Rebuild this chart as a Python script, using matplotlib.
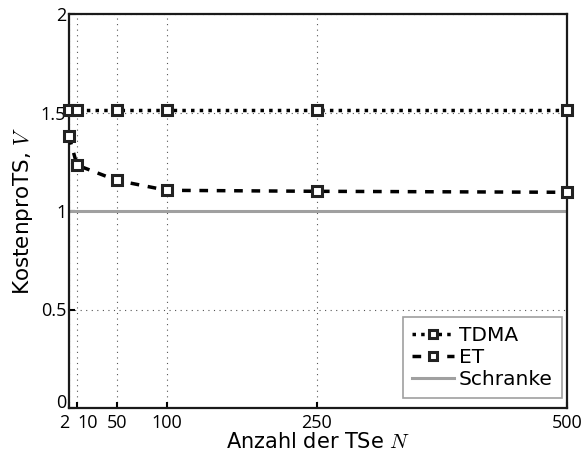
import matplotlib
matplotlib.use("Agg")
import matplotlib.pyplot as plt

x_vals = [2, 10, 50, 100, 250, 500]
tdma = [1.515, 1.515, 1.515, 1.515, 1.515, 1.515]
et = [1.38, 1.233, 1.155, 1.105, 1.10, 1.095]
bound = [1.0, 1.0, 1.0, 1.0, 1.0, 1.0]
xticks = [2, 10, 50, 100, 250, 500]
yticks = [0, 0.5, 1, 1.5, 2]
ytick_labels = ["0", "0.5", "1", "1.5", "2"]

plt.rcParams['font.family'] = ['DejaVu Sans']
plt.rcParams['mathtext.fontset'] = 'cm'

fig = plt.figure(figsize=(5.83, 4.54), dpi=100)
ax = fig.add_axes([69/583, 1 - 408/454, (567-69)/583, (408-14)/454])

ax.plot(x_vals, bound, color='#a0a0a0', lw=2.2, label='Schranke', zorder=2)
ax.plot(x_vals, tdma, color='black', ls=(0, (1, 1.5)), lw=2.5, marker='s', ms=7.5,
        mfc='white', mec='#222222', mew=2.2, label='TDMA', zorder=4, clip_on=False)
ax.plot(x_vals, et, color='black', ls=(0, (2.5, 2.5)), lw=2.5, marker='s', ms=7.5,
        mfc='white', mec='#222222', mew=2.2, label='ET', zorder=4, clip_on=False)

ax.set_xlim(2, 500)
ax.set_ylim(0, 2)
ax.set_xticks(xticks)
ax.set_xticklabels([str(v) for v in xticks], family='Open Sans', fontsize=13)
ax.set_yticks(yticks)
ax.set_yticklabels(ytick_labels, family='Open Sans', fontsize=13)
ax.tick_params(direction='in', length=4, width=1.5)
ax.tick_params(axis='x', pad=4)
ax.tick_params(axis='y', pad=2)
for lab in ax.get_xticklabels():
    if lab.get_text() == '2':
        lab.set_horizontalalignment('right')
    if lab.get_text() == '10':
        lab.set_horizontalalignment('left')
for lab in ax.get_yticklabels():
    if lab.get_text() == '0':
        lab.set_verticalalignment('baseline')
ax.grid(True, ls=(0, (1, 4)), color='#555555', lw=0.8)
for s in ax.spines.values():
    s.set_linewidth(1.6)
    s.set_color('#1a1a1a')

ax.set_xlabel('Anzahl der TSe $N$', fontsize=15, labelpad=0)
ax.set_ylabel('KostenproTS, $V$', fontsize=15.5, labelpad=4)

h, l = ax.get_legend_handles_labels()
order = [1, 2, 0]
leg = ax.legend([h[i] for i in order], [l[i] for i in order], loc='lower right',
                bbox_to_anchor=(0.990, 0.0254), borderaxespad=0,
                fontsize=14.5, frameon=True, fancybox=False, edgecolor='#888888',
                handlelength=2.1, handletextpad=0.25, borderpad=0.45, labelspacing=0.15,
                markerscale=0.75)
leg.get_frame().set_linewidth(1.2)

fig.savefig('out.png', dpi=100)
